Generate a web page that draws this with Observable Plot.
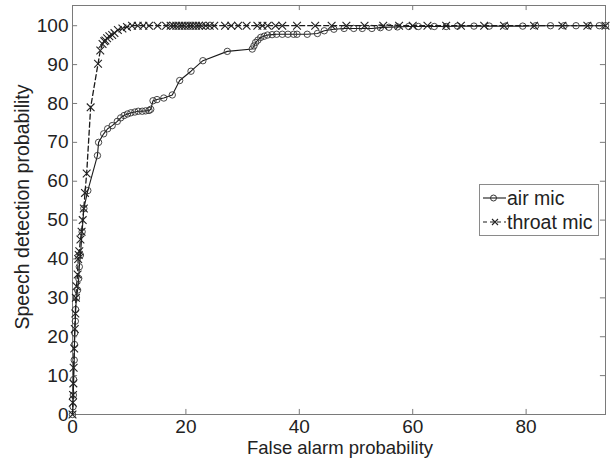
<!DOCTYPE html>
<html><head><meta charset="utf-8">
<script src="https://cdn.jsdelivr.net/npm/d3@7"></script>
<script src="https://cdn.jsdelivr.net/npm/@observablehq/plot@0.6"></script>
<style>
body{margin:0;background:#fff}
svg{font-family:"Liberation Sans",Arial,sans-serif}
</style>
</head><body><div id="chart"></div>
<script>
// Air mic (circles, solid line)
const airX = [0,0.1,0.15,0.2,0.3,0.35,0.4,0.5,0.55,0.7,0.9,1.1,1.2,1.4,1.7,2.0,2.7,4.4,4.6,5.5,6.2,7.0,7.9,8.5,9.1,9.7,10.3,11.0,11.6,12.3,12.9,13.5,13.8,14.2,14.9,16.1,17.6,18.9,20.9,23.0,27.3,31.7,32.0,32.3,32.7,33.2,33.8,34.4,35.2,36.0,37.0,38.0,39.0,39.6,41.4,43.2,44.4,46.1,47.9,49.6,51.1,52.8,54.3,55.8,57.3,59.3,61.0,63.8,65.9,67.9,70.8,73.5,76.4,79.4,81.7,84.3,86.7,88.8,91.1,92.9,94.0];
const airY = [0,2,5,9,14,18,21,24,27,30,32,35,38,41,47,53,57.6,66.6,70,72.2,73.5,74.3,75.4,76.3,76.9,77.3,77.6,77.8,78.0,78.0,78.1,78.2,78.5,80.7,81.0,81.4,82.2,85.9,88.3,91.0,93.4,94.0,94.8,95.7,96.3,97.0,97.3,97.6,97.7,97.8,97.8,97.8,97.8,97.8,97.8,98.0,98.7,99.1,99.3,99.3,99.3,99.3,99.5,99.6,99.7,99.8,99.8,99.8,99.8,99.9,99.9,99.9,99.9,99.9,100,100,100,100,100,100,100];
// Throat mic (x markers, dashed line)
const throatX = [0,0.05,0.1,0.15,0.2,0.3,0.4,0.5,0.6,0.7,0.9,1.0,1.1,1.2,1.4,1.6,1.8,2.0,2.2,2.5,3.2,4.5,4.9,5.3,5.6,5.8,6.1,6.5,7.0,7.4,8.0,8.8,9.6,10.5,11.5,12.5,13.5,15.0,16.5,17.3,17.8,18.3,18.8,19.3,19.8,20.3,20.8,21.3,21.8,22.3,22.8,23.5,24.2,25.0,26.9,28.0,29.2,30.7,32.6,33.5,34.4,35.8,37.0,39.6,42.8,45.7,48.3,51.5,54.8,57.6,60.0,62.6,65.9,68.5,72.6,76.1,81.4,86.4,90.8,94.0];
const throatY = [0,3,5,8,12,17,22,26,30,33,36,40,41,42,45,47,50,53,57,62,79,90.2,93.6,95.3,96.0,96.2,96.8,97.3,97.6,98.1,98.9,99.3,99.7,100,100,100,100,100,100,100,100,100,100,100,100,100,100,100,100,100,100,100,100,100,100,100,100,100,100,100,100,100,100,100,100,100,100,100,100,100,100,100,100,100,100,100,100,100,100,100];
const xTicks = [0,20,40,60,80];
const yTicks = [0,10,20,30,40,50,60,70,80,90,100];
const seriesNames = ["air mic","throat mic"];

const air = airX.map((x,i)=>({x, y: airY[i]}));
const throat = throatX.map((x,i)=>({x, y: throatY[i]}));

const X0 = 0, X1 = 94, Y0 = 0, Y1 = 105.2;
const tx = 1.3, ty = 0.9;
const ink = "#1a1a1a";
const FS = 19;

const plot = Plot.plot({
  width: 612, height: 458,
  marginLeft: 72, marginRight: 7, marginTop: 5, marginBottom: 44,
  x: {domain: [X0, X1]},
  y: {domain: [Y0, Y1]},
  style: {fontFamily: '"Liberation Sans", Arial, sans-serif', fontSize: FS + "px", color: "#222", background: "#fff"},
  marks: [
    Plot.frame({stroke: "#7a7a7a"}),
    Plot.ruleX(xTicks, {y1: Y0, y2: Y0 + tx, stroke: "#7a7a7a"}),
    Plot.ruleX(xTicks, {y1: Y1 - tx, y2: Y1, stroke: "#7a7a7a"}),
    Plot.ruleY(yTicks, {x1: X0, x2: X0 + ty, stroke: "#7a7a7a"}),
    Plot.ruleY(yTicks, {x1: X1 - ty, x2: X1, stroke: "#7a7a7a"}),
    Plot.axisX({ticks: xTicks, tickSize: 0, tickPadding: 5, fontSize: FS, label: null, tickFormat: d => String(d)}),
    Plot.axisY({ticks: yTicks, tickSize: 0, tickPadding: 4, fontSize: FS, label: null, tickFormat: d => String(d)}),
    Plot.line(air, {x: "x", y: "y", stroke: ink, strokeWidth: 1.1}),
    Plot.dot(air, {x: "x", y: "y", symbol: "circle", r: 3.2, stroke: "#333", strokeWidth: 0.9, fill: "none"}),
    Plot.line(throat, {x: "x", y: "y", stroke: ink, strokeWidth: 1.3, strokeDasharray: "5,3"}),
    Plot.dot(throat, {x: "x", y: "y", symbol: "times", r: 3.6, stroke: "#222", strokeWidth: 1.1})
  ]
});

const svg = d3.select(plot);
svg.append("text").attr("x", 340).attr("y", 454).attr("text-anchor", "middle")
  .attr("font-size", 18.5).attr("fill", "#222").text("False alarm probability");
svg.append("text").attr("transform", "translate(29,207) rotate(-90)").attr("text-anchor", "middle")
  .attr("font-size", 19.5).attr("fill", "#222").text("Speech detection probability");

// legend
const lg = svg.append("g");
lg.append("rect").attr("x", 479.5).attr("y", 184.5).attr("width", 119).attr("height", 51)
  .attr("fill", "#fff").attr("stroke", "#8a8a8a");
const rows = [
  {name: seriesNames[0], y: 198, dash: null},
  {name: seriesNames[1], y: 222, dash: "4,3"}
];
rows.forEach((r, i) => {
  lg.append("line").attr("x1", 483).attr("x2", 506).attr("y1", r.y).attr("y2", r.y)
    .attr("stroke", ink).attr("stroke-width", 1.1).attr("stroke-dasharray", r.dash);
  if (i === 0) {
    lg.append("circle").attr("cx", 493.5).attr("cy", r.y).attr("r", 3).attr("fill", "none").attr("stroke", "#333");
  } else {
    lg.append("path").attr("d", `M${492},${r.y-3}L${498},${r.y+3}M${492},${r.y+3}L${498},${r.y-3}`)
      .attr("stroke", "#222").attr("stroke-width", 1.1);
  }
  lg.append("text").attr("x", 507).attr("y", r.y).attr("dy", "0.35em").attr("font-size", 19.5)
    .attr("text-anchor", "start").attr("fill", "#222").text(r.name);
});

document.getElementById("chart").appendChild(plot);
</script>
</body></html>
